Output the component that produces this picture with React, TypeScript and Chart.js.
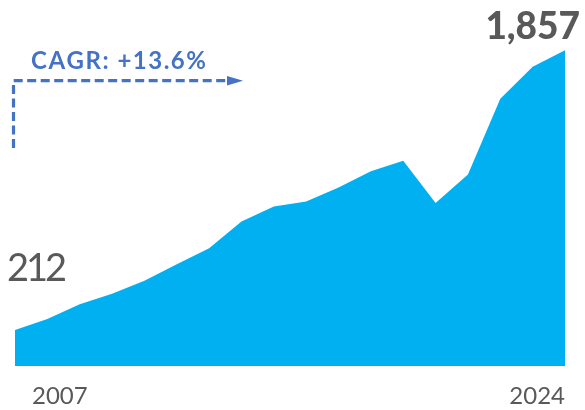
import React, { useEffect, useRef } from "react";
import { Chart, registerables } from "chart.js";

Chart.register(...registerables);

const years = [
  "2007", "2008", "2009", "2010", "2011", "2012", "2013", "2014", "2015",
  "2016", "2017", "2018", "2019", "2020", "2021", "2022", "2023", "2024",
];
const values = [
  212, 277, 363, 425, 502, 599, 693, 850, 938,
  968, 1050, 1145, 1207, 959, 1127, 1572, 1761, 1857,
];
const cagrText = "CAGR: +13.6%";
const axisLabels = [years[0], years[years.length - 1]];

const FONT = "Lato, 'Open Sans', sans-serif";
const GREY = "#595959";
const BLUE = "#4472C4";
const AREA = "#00B0F0";

// draw text left-aligned with extra spacing between characters
function spacedText(ctx: CanvasRenderingContext2D, text: string, x: number, y: number, spacing: number) {
  ctx.textAlign = "left";
  let cx = x;
  for (const ch of text) {
    ctx.fillText(ch, cx, y);
    cx += ctx.measureText(ch).width + spacing;
  }
}

const overlayPlugin = {
  id: "overlay",
  afterDraw(chart: any) {
    const ctx = chart.ctx as CanvasRenderingContext2D;
    const { chartArea } = chart;
    const xs = chart.scales.x;
    const ys = chart.scales.y;
    const first = values[0];
    const last = values[values.length - 1];
    ctx.save();
    ctx.textBaseline = "alphabetic";
    ctx.fillStyle = GREY;

    // end value
    ctx.font = `900 37px ${FONT}`;
    ctx.textAlign = "right";
    ctx.fillText(last.toLocaleString("en-US"), 580, ys.getPixelForValue(last) - 11);

    // start value
    ctx.font = `400 38px ${FONT}`;
    spacedText(ctx, first.toLocaleString("en-US"), 7, ys.getPixelForValue(first) - 49, -3);

    // axis labels
    ctx.font = `400 24px ${FONT}`;
    ctx.textAlign = "left";
    ctx.fillText(axisLabels[0], 32, chartArea.bottom + 38);
    ctx.textAlign = "right";
    ctx.fillText(axisLabels[1], xs.getPixelForValue(years.length - 1), chartArea.bottom + 38);

    // CAGR text
    ctx.fillStyle = BLUE;
    ctx.font = `700 24px ${FONT}`;
    spacedText(ctx, cagrText, 31, 68.5, 1.5);

    // dashed arrow
    ctx.strokeStyle = BLUE;
    ctx.lineWidth = 3.2;
    ctx.setLineDash([9, 4.5]);
    ctx.beginPath();
    ctx.moveTo(13.5, 148);
    ctx.lineTo(13.5, 80.7);
    ctx.lineTo(229, 80.7);
    ctx.stroke();
    ctx.setLineDash([]);
    ctx.fillStyle = BLUE;
    ctx.beginPath();
    ctx.moveTo(227, 76);
    ctx.lineTo(243, 80.7);
    ctx.lineTo(227, 85.4);
    ctx.closePath();
    ctx.fill();

    ctx.restore();
  },
};

export default function App() {
  const ref = useRef<HTMLCanvasElement | null>(null);
  useEffect(() => {
    if (!ref.current) return;
    const chart = new Chart(ref.current, {
      type: "line",
      data: {
        labels: years,
        datasets: [
          {
            data: values,
            fill: "origin",
            backgroundColor: AREA,
            borderColor: AREA,
            borderWidth: 0,
            pointRadius: 0,
            tension: 0,
          },
        ],
      },
      options: {
        responsive: false,
        animation: false,
        layout: { padding: { left: 15, right: 20, top: 26, bottom: 44 } },
        plugins: { legend: { display: false }, tooltip: { enabled: false } },
        scales: {
          x: { display: false, offset: false },
          y: { display: false, min: 0, max: 2000 },
        },
      },
      plugins: [overlayPlugin],
    });
    return () => chart.destroy();
  }, []);
  return (
    <div style={{ position: "absolute", left: 0, top: 0, width: 585, height: 410 }}>
      <canvas ref={ref} width={585} height={410} />
    </div>
  );
}
